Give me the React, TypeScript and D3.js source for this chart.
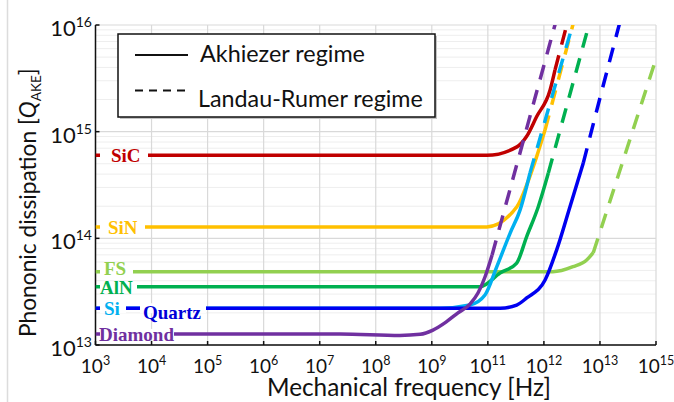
import React, { useEffect, useRef } from 'react';
import * as d3 from 'd3';

// tick labels of the (unevenly labelled) frequency axis, as powers of ten
const xTickExponents = [3, 4, 5, 6, 7, 8, 9, 11, 12, 13, 15];
const yTickExponents = [13, 14, 15, 16];

// [frequency Hz, Q]
const sicSolid = [[1e3, 6.0e14], [9.1e10, 6.0e14], [3.3e11, 7.2e14], [4.9e11, 9.0e14], [7.4e11, 1.38e15], [1.29e12, 2.46e15], [1.58e12, 3.8e15]];
const sicDashed = [[1.58e12, 3.8e15], [2.8e12, 1.2e16]];

const sinSolid = [[1e3, 1.28e14], [9.1e10, 1.28e14], [3.3e11, 1.98e14], [5.3e11, 3.5e14], [7.4e11, 5.8e14], [1.05e12, 1.04e15]];
const sinDashed = [[1.05e12, 1.04e15], [3.6e12, 1.2e16]];

const fsSolid = [[1e3, 4.86e13], [1.45e12, 4.86e13], [3.3e12, 5.42e13], [5.8e12, 6.27e13], [7.6e12, 7.33e13]];
const fsDashed = [[7.6e12, 7.33e13], [9.2e14, 4.5e15]];

const alnSolid = [[1e3, 3.52e13], [5.25e10, 3.52e13], [1.65e11, 4.73e13], [3.27e11, 5.87e13], [4.93e11, 1.04e14], [7.94e11, 1.98e14], [1.2e12, 4.1e14]];
const alnDashed = [[1.2e12, 4.1e14], [7.1e12, 1.24e16]];

const siSolid = [[1e3, 2.21e13], [1.96e9, 2.21e13], [2.3e10, 2.37e13], [7.9e10, 2.94e13], [1.44e11, 5.4e13], [2.5e11, 1.12e14], [3.75e11, 1.84e14], [5.65e11, 4.1e14]];
const siDashed = [[5.65e11, 4.1e14], [3.66e12, 1.24e16]];

const quartzSolid = [[1e3, 2.21e13], [1.65e11, 2.21e13], [3.27e11, 2.37e13], [4.93e11, 2.76e13], [1.05e12, 4.07e13], [1.69e12, 7.8e13], [2.92e12, 1.98e14], [5.05e12, 5.1e14]];
const quartzDashed = [[5.05e12, 5.1e14], [1e13, 2.07e15], [6.0e13, 1.24e16]];

const diamondSolid = [[1e3, 1.27e13], [2.3e7, 1.27e13], [2.7e8, 1.23e13], [6.2e8, 1.26e13], [1.1e9, 1.38e13], [3.2e9, 1.64e13], [8.6e9, 2.0e13], [2.3e10, 2.42e13], [4.45e10, 3.07e13], [7.9e10, 4.34e13], [1.19e11, 6.98e13]];
const diamondDashed = [[1.19e11, 6.98e13], [1.76e12, 1.24e16]];

const materials = ['SiC', 'SiN', 'FS', 'AlN', 'Si', 'Quartz', 'Diamond'];
const legendLabels = ['Akhiezer regime', 'Landau-Rumer regime'];

const W = 674;
const H = 402;
const M = { left: 95.5, right: 656, top: 25, bottom: 345 };
const sans = 'Lato, "Open Sans", sans-serif';
const serif = '"Liberation Serif", "Times New Roman", serif';

// scale a text's font sizes so that it spans `width` pixels
function fit(t: d3.Selection<SVGTextElement, unknown, null, undefined>, width: number) {
  const w = (t.node() as SVGTextElement).getBBox().width;
  const k = width / w;
  t.attr('font-size', +t.attr('font-size') * k);
  t.selectAll<SVGTSpanElement, unknown>('tspan').each(function () {
    const s = d3.select(this);
    if (s.attr('font-size')) s.attr('font-size', +s.attr('font-size') * k);
    if (s.attr('dy')) s.attr('dy', +s.attr('dy') * k);
  });
}

export default function App() {
  const ref = useRef<SVGSVGElement>(null);

  useEffect(() => {
    const svg = d3.select(ref.current);
    svg.selectAll('*').remove();

    const series = [
      { name: materials[0], color: '#c00000', solid: sicSolid, dashed: sicDashed },
      { name: materials[1], color: '#ffc000', solid: sinSolid, dashed: sinDashed },
      { name: materials[2], color: '#92d050', solid: fsSolid, dashed: fsDashed },
      { name: materials[3], color: '#00b050', solid: alnSolid, dashed: alnDashed },
      { name: materials[4], color: '#00b0f0', solid: siSolid, dashed: siDashed },
      { name: materials[5], color: '#0000f0', solid: quartzSolid, dashed: quartzDashed },
      { name: materials[6], color: '#7030a0', solid: diamondSolid, dashed: diamondDashed },
    ];

    const n = xTickExponents.length;
    const x = d3.scaleLinear()
      .domain(xTickExponents)
      .range(xTickExponents.map((_, i) => M.left + (i * (M.right - M.left)) / (n - 1)));
    const y = d3.scaleLog().domain([1e13, 1e16]).range([M.bottom, M.top]);

    // faint page edge on the left
    svg.append('line').attr('x1', 7.5).attr('x2', 7.5).attr('y1', 0).attr('y2', H)
      .attr('stroke', '#dcdcdc').attr('stroke-width', 1.5);

    // grid
    const grid = svg.append('g');
    for (let d = 13; d < 16; d++) {
      for (let k = 2; k <= 9; k++) {
        grid.append('line').attr('x1', M.left).attr('x2', M.right)
          .attr('y1', y(k * 10 ** d)).attr('y2', y(k * 10 ** d))
          .attr('stroke', '#eeeeee').attr('stroke-width', 1);
      }
    }
    yTickExponents.forEach((e) => {
      grid.append('line').attr('x1', M.left).attr('x2', M.right)
        .attr('y1', y(10 ** e)).attr('y2', y(10 ** e))
        .attr('stroke', '#d9d9d9').attr('stroke-width', 1.2);
    });
    xTickExponents.forEach((e) => {
      grid.append('line').attr('x1', x(e)).attr('x2', x(e))
        .attr('y1', M.top).attr('y2', M.bottom)
        .attr('stroke', '#d9d9d9').attr('stroke-width', 1.2);
    });

    // axes
    const axes = svg.append('g').attr('stroke', '#111').attr('stroke-width', 1.5);
    axes.append('line').attr('x1', M.left).attr('x2', M.left).attr('y1', M.top).attr('y2', M.bottom);
    axes.append('line').attr('x1', M.left).attr('x2', M.right).attr('y1', M.bottom).attr('y2', M.bottom);
    yTickExponents.forEach((e) => {
      axes.append('line').attr('x1', M.left).attr('x2', M.left + 4)
        .attr('y1', y(10 ** e)).attr('y2', y(10 ** e));
    });
    xTickExponents.forEach((e) => {
      axes.append('line').attr('x1', x(e)).attr('x2', x(e))
        .attr('y1', M.bottom).attr('y2', M.bottom - 4);
    });

    // tick labels
    yTickExponents.forEach((e) => {
      const t = svg.append('text').attr('x', 92).attr('y', y(10 ** e) + 11)
        .attr('text-anchor', 'end').attr('font-family', sans).attr('fill', '#111');
      t.append('tspan').attr('font-size', 22).text('10');
      t.append('tspan').attr('font-size', 14).attr('dy', -9).text(String(e));
    });
    xTickExponents.forEach((e) => {
      const t = svg.append('text').attr('x', x(e)).attr('y', 373)
        .attr('text-anchor', 'middle').attr('font-family', sans).attr('fill', '#111');
      t.append('tspan').attr('font-size', 19).text('10');
      t.append('tspan').attr('font-size', 12.5).attr('dy', -8).text(String(e));
    });

    // axis titles
    const xt = svg.append('text').attr('x', 267).attr('y', 396)
      .attr('font-family', sans).attr('font-size', 25).attr('fill', '#111')
      .text('Mechanical frequency [Hz]');
    fit(xt, 284);
    const yt = svg.append('text')
      .attr('font-family', sans).attr('font-size', 25).attr('fill', '#111');
    yt.append('tspan').text('Phononic dissipation [');
    yt.append('tspan').attr('font-style', 'italic').text('Q');
    yt.append('tspan').attr('font-size', 15).attr('dy', 5).text('AKE');
    yt.append('tspan').attr('font-size', 25).attr('dy', -5).text(']');
    fit(yt, 269);
    yt.attr('transform', 'translate(36,337) rotate(-90)');

    // curves
    svg.append('clipPath').attr('id', 'plot-clip')
      .append('rect').attr('x', M.left).attr('y', M.top)
      .attr('width', M.right - M.left).attr('height', M.bottom - M.top);
    const solidLine = d3.line<number[]>()
      .x((d) => x(Math.log10(d[0])))
      .y((d) => y(d[1]))
      .curve(d3.curveMonotoneX);
    const dashLine = d3.line<number[]>()
      .x((d) => x(Math.log10(d[0])))
      .y((d) => y(d[1]));
    const plot = svg.append('g').attr('clip-path', 'url(#plot-clip)');
    series.forEach((s) => {
      plot.append('path').attr('d', dashLine(s.dashed)).attr('fill', 'none')
        .attr('stroke', s.color).attr('stroke-width', 3.5).attr('stroke-dasharray', '15,11');
      plot.append('path').attr('d', solidLine(s.solid)).attr('fill', 'none')
        .attr('stroke', s.color).attr('stroke-width', 3.5);
    });

    // material labels, knocked out of the flat lines
    const labelLayout: Record<string, { x: number; y: number; gap: [number, number]; color: string }> = {
      SiC: { x: 111, y: 161.5, gap: [100, 148], color: '#c00000' },
      SiN: { x: 108, y: 234, gap: [100, 145], color: '#ffc000' },
      FS: { x: 104, y: 275, gap: [100, 133], color: '#92d050' },
      AlN: { x: 100, y: 294, gap: [100, 137], color: '#00b050' },
      Si: { x: 104, y: 315, gap: [100, 126], color: '#00b0f0' },
      Quartz: { x: 143, y: 318.5, gap: [140, 206], color: '#0000d8' },
      Diamond: { x: 99, y: 341, gap: [100, 174], color: '#7030a0' },
    };
    const lab = svg.append('g');
    materials.forEach((m, i) => {
      const L = labelLayout[m];
      const flatY = y(series[i].solid[0][1]);
      lab.append('rect').attr('x', L.gap[0]).attr('y', flatY - 5)
        .attr('width', L.gap[1] - L.gap[0]).attr('height', 10).attr('fill', '#fff');
    });
    materials.forEach((m) => {
      const L = labelLayout[m];
      lab.append('text').attr('x', L.x).attr('y', L.y)
        .attr('font-family', serif).attr('font-weight', 'bold').attr('font-size', 19)
        .attr('fill', L.color).text(m);
    });

    // legend
    const lg = svg.append('g');
    lg.append('rect').attr('x', 120).attr('y', 36).attr('width', 317).attr('height', 83)
      .attr('fill', '#c4c4c4');
    lg.append('rect').attr('x', 118).attr('y', 34).attr('width', 317).attr('height', 83)
      .attr('fill', '#fff').attr('stroke', '#111').attr('stroke-width', 1.5);
    lg.append('line').attr('x1', 135).attr('x2', 188).attr('y1', 55).attr('y2', 55)
      .attr('stroke', '#111').attr('stroke-width', 2);
    lg.append('line').attr('x1', 135).attr('x2', 188).attr('y1', 90.5).attr('y2', 90.5)
      .attr('stroke', '#111').attr('stroke-width', 2).attr('stroke-dasharray', '8,6');
    const l1 = lg.append('text').attr('x', 200).attr('y', 62).attr('font-family', sans)
      .attr('font-size', 22).attr('fill', '#111').text(legendLabels[0]);
    fit(l1, 165);
    const l2 = lg.append('text').attr('x', 198).attr('y', 107).attr('font-family', sans)
      .attr('font-size', 22).attr('fill', '#111').text(legendLabels[1]);
    fit(l2, 225);
  }, []);

  return (
    <svg
      ref={ref}
      width={W}
      height={H}
      style={{ position: 'absolute', left: 0, top: 0, background: '#fff' }}
    />
  );
}
